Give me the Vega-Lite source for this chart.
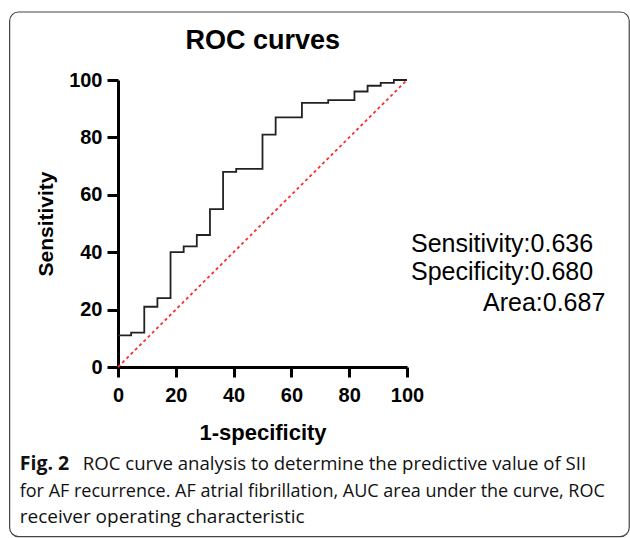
{
  "$schema": "https://vega.github.io/schema/vega-lite/v6.json",
  "width": 289,
  "height": 287,
  "autosize": {"type": "none"},
  "padding": {"left": 118, "top": 80, "right": 223, "bottom": 171},
  "background": "white",
  "config": {
    "view": {"stroke": null},
    "axis": {
      "grid": false,
      "domainColor": "black",
      "domainWidth": 3,
      "tickColor": "black",
      "tickWidth": 3,
      "tickSize": 10,
      "labelFont": "Liberation Sans",
      "labelFontSize": 20,
      "labelFontWeight": "bold",
      "labelColor": "black",
      "labelFlush": false,
      "titleFont": "Liberation Sans",
      "titleFontSize": 22,
      "titleFontWeight": "bold",
      "titleColor": "black"
    }
  },
  "datasets": {
    "roc": [
      {"fpr": 0, "tpr": 11},
      {"fpr": 4.55, "tpr": 12},
      {"fpr": 9.09, "tpr": 21},
      {"fpr": 13.64, "tpr": 24},
      {"fpr": 18.18, "tpr": 40},
      {"fpr": 22.73, "tpr": 42},
      {"fpr": 27.27, "tpr": 46},
      {"fpr": 31.82, "tpr": 55},
      {"fpr": 36.36, "tpr": 68},
      {"fpr": 40.91, "tpr": 69},
      {"fpr": 50, "tpr": 81},
      {"fpr": 54.55, "tpr": 87},
      {"fpr": 63.64, "tpr": 92},
      {"fpr": 72.73, "tpr": 93},
      {"fpr": 81.82, "tpr": 96},
      {"fpr": 86.36, "tpr": 98},
      {"fpr": 90.91, "tpr": 99},
      {"fpr": 95.45, "tpr": 100},
      {"fpr": 100, "tpr": 100}
    ],
    "one": [{}]
  },
  "layer": [
    {
      "data": {"name": "one"},
      "mark": {"type": "rect", "fill": null, "stroke": "#444444", "strokeWidth": 1.2, "cornerRadius": 9},
      "encoding": {
        "x": {"datum": -37.5},
        "x2": {"datum": 176.9},
        "y": {"datum": 123.7},
        "y2": {"datum": -59.1}
      }
    },
    {
      "data": {"name": "one"},
      "mark": {"type": "rule", "color": "#ff2a2a", "strokeWidth": 1.8, "strokeDash": [3, 3]},
      "encoding": {
        "x": {"datum": 0},
        "y": {"datum": 0},
        "x2": {"datum": 100},
        "y2": {"datum": 100}
      }
    },
    {
      "data": {"name": "roc"},
      "mark": {"type": "line", "interpolate": "step-after", "color": "#222222", "strokeWidth": 1.8},
      "encoding": {
        "x": {
          "field": "fpr", "type": "quantitative", "title": "1-specificity",
          "scale": {"domain": [0, 100], "nice": false, "zero": false},
          "axis": {"values": [0, 20, 40, 60, 80, 100], "labelPadding": 8, "titlePadding": 17}
        },
        "y": {
          "field": "tpr", "type": "quantitative", "title": "Sensitivity",
          "scale": {"domain": [0, 100], "nice": false, "zero": false},
          "axis": {"values": [0, 20, 40, 60, 80, 100], "tickSize": 11, "labelPadding": 5, "titlePadding": 12, "titleFontSize": 21}
        }
      }
    },
    {
      "data": {"name": "one"},
      "mark": {"type": "text", "text": "ROC curves", "font": "Liberation Sans", "fontSize": 27, "fontWeight": "bold", "align": "center", "baseline": "alphabetic", "color": "black"},
      "encoding": {"x": {"datum": 50.1}, "y": {"datum": 110.8}}
    },
    {
      "data": {"name": "one"},
      "mark": {"type": "text", "text": "Sensitivity:0.636", "font": "Liberation Sans", "fontSize": 25, "align": "left", "baseline": "alphabetic", "color": "black"},
      "encoding": {"x": {"datum": 101.4}, "y": {"datum": 40.2}}
    },
    {
      "data": {"name": "one"},
      "mark": {"type": "text", "text": "Specificity:0.680", "font": "Liberation Sans", "fontSize": 25, "align": "left", "baseline": "alphabetic", "color": "black"},
      "encoding": {"x": {"datum": 101.4}, "y": {"datum": 30.4}}
    },
    {
      "data": {"name": "one"},
      "mark": {"type": "text", "text": "Area:0.687", "font": "Liberation Sans", "fontSize": 25, "align": "left", "baseline": "alphabetic", "color": "black"},
      "encoding": {"x": {"datum": 126.3}, "y": {"datum": 19.4}}
    },
    {
      "data": {"name": "one"},
      "mark": {"type": "text", "text": "Fig. 2", "font": "Open Sans", "fontSize": 19.5, "fontWeight": "bold", "align": "left", "baseline": "alphabetic", "color": "#111111"},
      "encoding": {"x": {"datum": -34.0}, "y": {"datum": -35.9}}
    },
    {
      "data": {"name": "one"},
      "mark": {"type": "text", "text": "ROC curve analysis to determine the predictive value of SII", "font": "Open Sans", "fontSize": 18.6, "align": "left", "baseline": "alphabetic", "color": "#111111"},
      "encoding": {"x": {"datum": -12.2}, "y": {"datum": -35.9}}
    },
    {
      "data": {"name": "one"},
      "mark": {"type": "text", "text": "for AF recurrence. AF atrial fibrillation, AUC area under the curve, ROC", "font": "Open Sans", "fontSize": 18, "align": "left", "baseline": "alphabetic", "color": "#111111"},
      "encoding": {"x": {"datum": -34.0}, "y": {"datum": -45.2}}
    },
    {
      "data": {"name": "one"},
      "mark": {"type": "text", "text": "receiver operating characteristic", "font": "Open Sans", "fontSize": 19, "align": "left", "baseline": "alphabetic", "color": "#111111"},
      "encoding": {"x": {"datum": -34.0}, "y": {"datum": -54.4}}
    }
  ]
}
